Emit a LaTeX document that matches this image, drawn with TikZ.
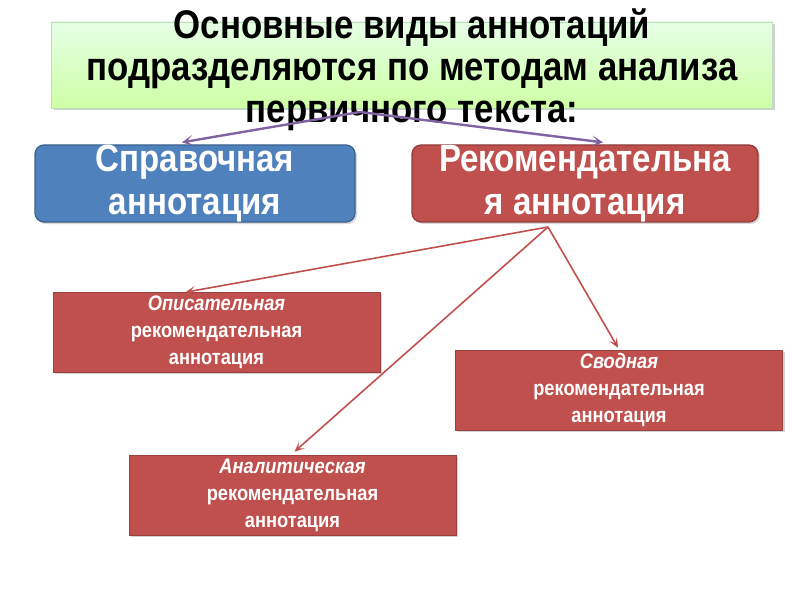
\documentclass[tikz,border=0pt]{standalone}
\usepackage{fontspec}
\setmainfont{Liberation Sans}
\newfontfamily\narrowfont[FakeStretch=0.87]{Liberation Sans}
\usetikzlibrary{arrows.meta,shadows}

\definecolor{annblue}{HTML}{4F81BD}
\definecolor{annred}{HTML}{C0504D}
\definecolor{annpurple}{HTML}{8064A2}

\begin{document}
\begin{tikzpicture}[x=1pt,y=1pt,
	headbox/.style={rectangle,draw=green!30!gray!40,top color=green!10!white,bottom color=green!55!yellow!35,drop shadow={opacity=0.35,shadow xshift=2pt,shadow yshift=-2pt},minimum width=721pt,minimum height=86pt,inner sep=0pt},
	mainbox/.style={rectangle,rounded corners=9pt,line width=1.2pt,minimum height=77pt,inner sep=0pt,align=center,text=white,font=\narrowfont\bfseries\fontsize{38}{43}\selectfont,drop shadow={opacity=0.3,shadow xshift=2pt,shadow yshift=-2pt}},
	subbox/.style={rectangle,fill=annred,draw=annred!80!black,line width=0.6pt,minimum width=327pt,minimum height=80pt,inner sep=0pt,align=center,text=white,font=\narrowfont\bfseries\fontsize{21}{27}\selectfont,drop shadow={opacity=0.35,shadow xshift=2pt,shadow yshift=-2pt}},
	purplearrow/.style={draw=annpurple,line width=2.4pt,-{Stealth[length=11pt,width=11pt,inset=6pt]}},
	redarrow/.style={draw=annred,line width=1.6pt,-{Stealth[length=10pt,width=9pt,inset=5pt]}}]
	\useasboundingbox (0,0) rectangle (800,600);

	\node (titlebox) [headbox] at (412,535) {};
	\node (title) [align=center,font=\narrowfont\bfseries\fontsize{40}{42}\selectfont] at (412,530) {Основные виды аннотаций\\подразделяются по методам анализа\\первичного текста:};

	\node (sprav) [mainbox,fill=annblue,draw=annblue!75!black,minimum width=320pt] at (195,416.5) {Справочная\\аннотация};
	\node (rekom) [mainbox,fill=annred,draw=annred!75!black,minimum width=346pt] at (585,416.5) {Рекомендательна\\я аннотация};

	\node (opis) [subbox] at (216.5,267.5) {\itshape Описательная\\рекомендательная\\аннотация};
	\node (svod) [subbox] at (619,210) {\itshape Сводная\\рекомендательная\\аннотация};
	\node (anal) [subbox] at (292.5,105) {\itshape Аналитическая\\рекомендательная\\аннотация};

	\coordinate (split) at (360,488);
	\coordinate (hub) at (548,373);

	\draw[purplearrow] (split) -- ([xshift=-13pt,yshift=2pt]sprav.north);
	\draw[purplearrow] (split) -- ([xshift=18pt,yshift=2pt]rekom.north);

	\draw[redarrow] (hub) -- ([xshift=-31pt]opis.north);
	\draw[redarrow] (hub) -- ([xshift=-1pt,yshift=2pt]svod.north);
	\draw[redarrow] (hub) -- ([xshift=2pt,yshift=3pt]anal.north);
\end{tikzpicture}
\end{document}
